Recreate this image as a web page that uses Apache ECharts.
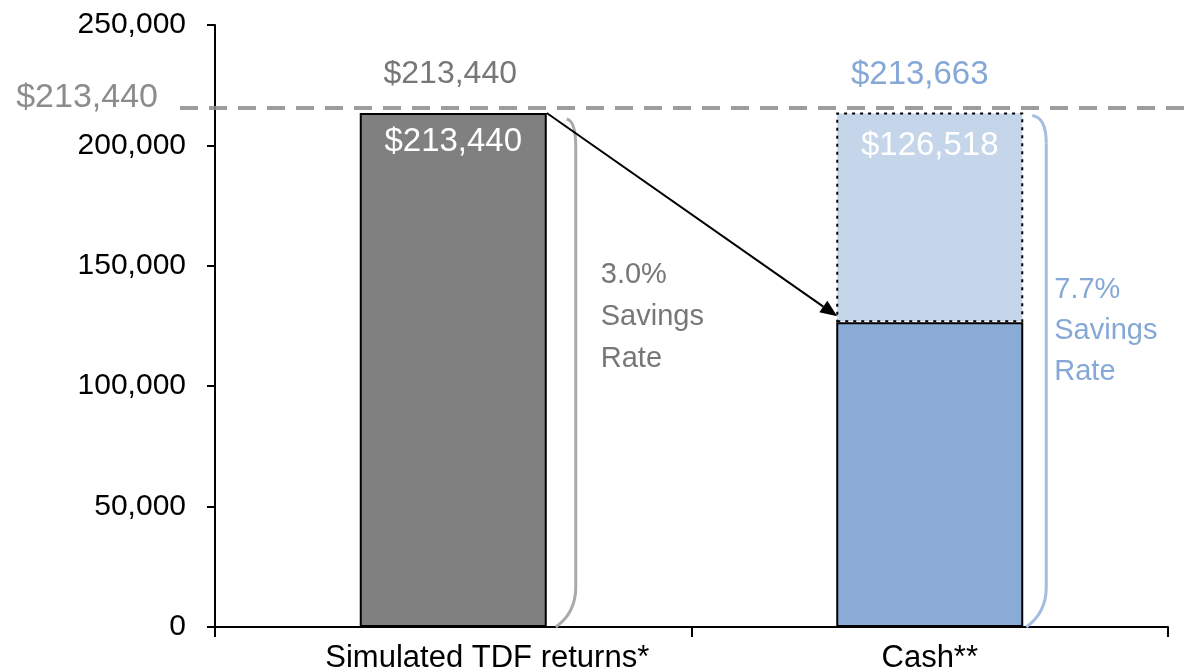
<!DOCTYPE html>
<html><head><meta charset="utf-8">
<script src="https://cdn.jsdelivr.net/npm/echarts@6/dist/echarts.min.js"></script>
<style>html,body{margin:0;padding:0;background:#fff}#c{width:1188px;height:671px}</style>
</head><body><div id="c"></div>
<script>
const categories = ['Simulated TDF returns*', 'Cash**'];
const tdfValues = [213440, null];
const cashValues = [null, 126518];
const cashExtraValues = [null, 87145];
const cashTotal = 213663;
const refLineValue = 215500;
const refLabel = '$213,440';
const savingsLabels = ['3.0%\nSavings\nRate', '7.7%\nSavings\nRate'];
const yMin = 0, yMax = 250000, yInterval = 50000;

const FONT = '"Liberation Sans", Arial, sans-serif';
const GRAY_TXT = '#777777';
const BLUE_TXT = '#86a8d6';
const BAR_W = 187;
const money = v => '$' + Number(v).toLocaleString('en-US');

const chart = echarts.init(document.getElementById('c'), null, {renderer: 'canvas'});
chart.setOption({
  animation: false,
  backgroundColor: '#ffffff',
  grid: {left: 215, right: 20, top: 25, bottom: 44, containLabel: false, outerBoundsMode: 'none'},
  xAxis: {
    type: 'category', data: categories, boundaryGap: true,
    axisLine: {lineStyle: {color: '#000', width: 2}},
    axisTick: {show: true, interval: 0, length: 10, lineStyle: {color: '#000', width: 2}},
    axisLabel: {color: '#000', fontFamily: FONT, fontSize: 31, margin: 16, interval: 0, hideOverlap: false,
      formatter: (v, i) => i === 0 ? '{a|' + v + '}' : v,
      rich: {a: {fontFamily: FONT, fontSize: 31, color: '#000', padding: [0, 0, 0, 68]}}}
  },
  yAxis: {
    type: 'value', min: yMin, max: yMax, interval: yInterval,
    splitLine: {show: false},
    axisLine: {show: true, lineStyle: {color: '#000', width: 2}},
    axisTick: {show: true, length: 8, lineStyle: {color: '#000', width: 2}},
    axisLabel: {color: '#000', fontFamily: FONT, fontSize: 30, margin: 29,
      formatter: v => Number(v).toLocaleString('en-US')}
  },
  series: [
    {type: 'bar', name: 'TDF', data: tdfValues, barWidth: BAR_W, barGap: '-100%', z: 3,
     itemStyle: {color: '#808080', borderColor: '#000', borderWidth: 2},
     label: {show: true, position: 'insideTop', distance: 12, color: '#fff', fontFamily: FONT, fontSize: 33,
       formatter: p => money(p.value)}},
    {type: 'bar', name: 'Cash', stack: 'cash', data: cashValues, barWidth: BAR_W, z: 3,
     itemStyle: {color: '#89abd5', borderColor: '#000', borderWidth: 2}},
    {type: 'bar', name: 'Cash extra', stack: 'cash', data: cashExtraValues, barWidth: BAR_W, z: 2,
     itemStyle: {color: '#c5d5ea', borderColor: '#000', borderWidth: 2, borderType: [3, 5]},
     label: {show: true, position: 'insideTop', distance: 17, color: '#fff', fontFamily: FONT, fontSize: 33,
       formatter: () => money(cashValues[1])}}
  ]
});

function px(ci, v) { return chart.convertToPixel({xAxisIndex: 0, yAxisIndex: 0}, [ci, v]); }
const b1 = px(0, tdfValues[0]);
const b2 = px(1, cashValues[1]);
const b2t = px(1, cashTotal);
const y0 = px(0, 0)[1];
const refY = px(0, refLineValue)[1];
const b1R = b1[0] + BAR_W / 2, b2L = b2[0] - BAR_W / 2, b2R = b2[0] + BAR_W / 2;

// arrow
const ax1 = b1R, ay1 = b1[1], ax2 = b2L + 1, ay2 = b2[1] - 6;
const ang = Math.atan2(ay2 - ay1, ax2 - ax1);
const hl = 17, hw = 7;
const bx = ax2 - hl * Math.cos(ang), by = ay2 - hl * Math.sin(ang);
const head = [[ax2, ay2],
  [bx + hw * Math.sin(ang), by - hw * Math.cos(ang)],
  [bx - hw * Math.sin(ang), by + hw * Math.cos(ang)]];

const br1 = b1R + 29, br2 = b2R + 23;
function bracket(x, top, bottom, topDx, color) {
  const st = {fill: 'none', stroke: color, lineWidth: 3};
  return [
    {type: 'bezierCurve', z: 5, shape: {x1: x - topDx, y1: top, cpx1: x, cpy1: top + 2, x2: x, y2: top + 28}, style: st},
    {type: 'line', z: 5, shape: {x1: x, y1: top + 28, x2: x, y2: bottom - 40}, style: st},
    {type: 'bezierCurve', z: 5, shape: {x1: x, y1: bottom - 40, cpx1: x, cpy1: bottom - 14, x2: x - 20, y2: bottom}, style: st}
  ];
}

chart.setOption({graphic: [
  {type: 'line', z: 10, shape: {x1: 180, y1: refY, x2: 1188, y2: refY},
   style: {stroke: 'rgba(140,140,140,0.85)', lineWidth: 4, lineDash: [18, 11]}},
  {type: 'text', z: 10, style: {x: 158, y: refY - 10, text: refLabel, align: 'right', verticalAlign: 'middle',
    fill: '#8c8c8c', font: `34px ${FONT}`}},
  {type: 'text', z: 10, style: {x: b1[0] - 3, y: b1[1] - 39, text: money(tdfValues[0]), align: 'center', verticalAlign: 'middle',
    fill: GRAY_TXT, font: `32px ${FONT}`}},
  {type: 'text', z: 10, style: {x: b2[0] - 10, y: b2t[1] - 38, text: money(cashTotal), align: 'center', verticalAlign: 'middle',
    fill: BLUE_TXT, font: `33px ${FONT}`}},
  {type: 'line', z: 10, shape: {x1: ax1, y1: ay1, x2: bx, y2: by}, style: {stroke: '#000', lineWidth: 2}},
  {type: 'polygon', z: 10, shape: {points: head}, style: {fill: '#000'}},
  ...bracket(br1, b1[1] + 6, y0, 9, '#aaaaaa'),
  ...bracket(br2, b2t[1] + 3, y0, 14, '#a4bde0'),
  {type: 'text', z: 10, style: {x: br1 + 25, y: 254, text: savingsLabels[0], align: 'left', verticalAlign: 'top',
    fill: GRAY_TXT, font: `29px ${FONT}`, lineHeight: 42}},
  {type: 'text', z: 10, style: {x: br2 + 8, y: 269, text: savingsLabels[1], align: 'left', verticalAlign: 'top',
    fill: BLUE_TXT, font: `29px ${FONT}`, lineHeight: 41}}
]});
</script></body></html>
